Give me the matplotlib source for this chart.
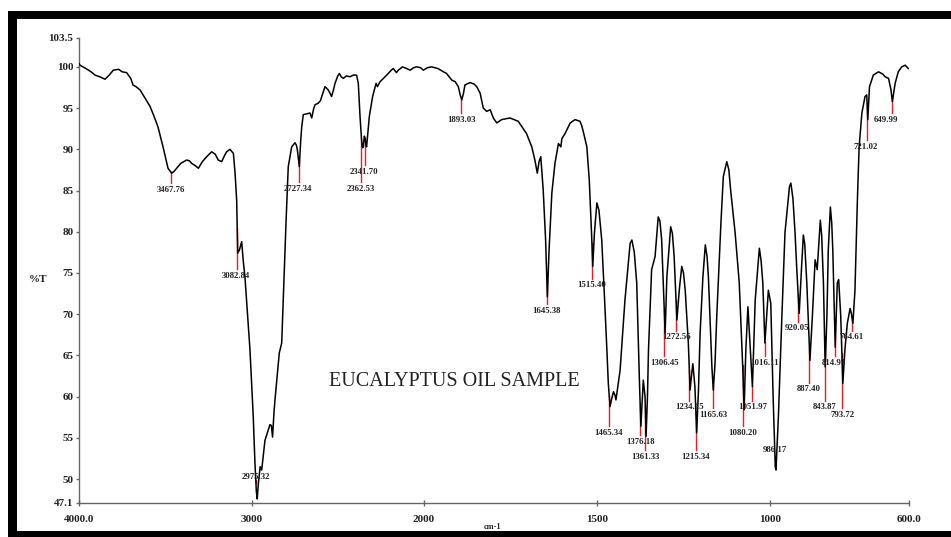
import matplotlib
matplotlib.use('Agg')
import matplotlib.pyplot as plt
import numpy as np
from matplotlib.patches import Rectangle

# ---------------- data ----------------
wavenumber = [4000, 3994, 3960, 3930, 3907, 3880, 3849, 3825, 3801, 3770, 3750, 3724, 3700, 3687, 3670,
              3646, 3620, 3588, 3565, 3542, 3513, 3484, 3463, 3450, 3434, 3410, 3376, 3360, 3347, 3325,
              3308, 3285, 3260, 3231, 3210, 3193, 3173, 3155, 3144, 3125, 3105, 3095, 3086, 3080, 3070,
              3057, 3048, 3038, 3009, 2990, 2980, 2972, 2967, 2960, 2950, 2941, 2922, 2893, 2885, 2878,
              2870, 2864, 2839, 2825, 2816, 2800, 2787, 2767, 2748, 2740, 2734, 2723, 2715, 2709, 2700,
              2680, 2661, 2651, 2640, 2632, 2613, 2600, 2593, 2574, 2555, 2545, 2536, 2525, 2516, 2500,
              2491, 2480, 2468, 2450, 2429, 2410, 2391, 2381, 2371, 2362, 2356, 2352, 2346, 2342, 2337,
              2333, 2317, 2298, 2278, 2270, 2255, 2240, 2226, 2207, 2190, 2178, 2160, 2149, 2125, 2101,
              2080, 2060, 2043, 2020, 2004, 1990, 1978, 1960, 1944, 1935, 1920, 1910, 1901, 1895, 1891,
              1886, 1882, 1867, 1855, 1848, 1838, 1829, 1819, 1809, 1800, 1790, 1776, 1752, 1728, 1704,
              1689, 1680, 1673, 1668, 1663, 1656, 1649, 1644, 1639, 1631, 1622, 1612, 1605, 1602, 1593,
              1578, 1564, 1550, 1545, 1540, 1530, 1523, 1516, 1513, 1508, 1501, 1495, 1487, 1480, 1473,
              1468, 1463, 1458, 1453, 1449, 1446, 1434, 1420, 1405, 1400, 1393, 1386, 1378, 1374, 1370,
              1367, 1362, 1359, 1355, 1352, 1343, 1333, 1324, 1319, 1314, 1304, 1299, 1288, 1283, 1278,
              1270, 1263, 1256, 1251, 1246, 1237, 1232, 1228, 1224, 1218, 1213, 1208, 1203, 1195, 1188,
              1183, 1179, 1169, 1165, 1160, 1155, 1143, 1136, 1126, 1120, 1115, 1102, 1090, 1080, 1076,
              1071, 1065, 1059, 1052, 1044, 1032, 1027, 1022, 1016, 1006, 1002, 999, 992, 986, 984,
              977, 967, 958, 945, 941, 935, 929, 924, 917, 910, 905, 901, 895, 886, 879,
              871, 865, 856, 852, 847, 842, 837, 833, 827, 823, 820, 813, 807, 803, 797,
              791, 785, 778, 770, 766, 762, 756, 749, 744, 736, 727, 722, 719, 714, 703,
              688, 675, 669, 659, 652, 648, 640, 631, 621, 611, 602]
transmittance = [100.4, 100.2, 99.8, 99.4, 99.0, 98.8, 98.5, 99.0, 99.6, 99.7, 99.4, 99.3, 98.6, 97.8, 97.6,
                 97.2, 96.3, 95.2, 94.0, 92.7, 90.3, 87.7, 87.1, 87.3, 87.7, 88.3, 88.7, 88.6, 88.3, 88.0,
                 87.7, 88.5, 89.1, 89.7, 89.4, 88.7, 88.5, 89.3, 89.7, 90.0, 89.5, 87.0, 83.8, 77.4, 77.8,
                 78.8, 76.5, 74.5, 65.7, 57.6, 51.9, 48.5, 47.6, 49.5, 51.5, 51.1, 54.7, 56.6, 56.5, 55.1,
                 58.0, 59.6, 65.3, 66.5, 71.7, 81.1, 87.9, 90.3, 90.8, 90.5, 89.9, 87.9, 91.0, 92.7, 94.2,
                 94.3, 94.4, 93.8, 94.9, 95.4, 95.6, 95.9, 96.4, 97.6, 97.2, 96.8, 96.4, 97.2, 98.0, 98.9,
                 99.2, 98.8, 98.6, 98.9, 98.8, 99.0, 99.0, 98.0, 94.0, 91.1, 90.2, 90.3, 91.6, 91.4, 90.6,
                 90.3, 94.0, 96.4, 98.0, 97.6, 98.2, 98.5, 98.8, 99.2, 99.6, 99.8, 99.3, 99.6, 100.0, 99.8,
                 99.6, 99.9, 100.0, 99.9, 99.6, 99.9, 100.0, 99.8, 99.4, 99.2, 98.4, 98.2, 97.6, 96.5, 96.0,
                 96.8, 97.8, 98.1, 97.9, 97.6, 96.8, 95.0, 94.6, 94.8, 93.8, 93.2, 93.6, 93.8, 93.4, 91.9,
                 90.3, 88.7, 87.1, 88.5, 89.1, 85.1, 79.0, 72.1, 77.8, 84.7, 88.3, 90.7, 90.3, 91.3, 91.9,
                 93.2, 93.6, 93.4, 92.9, 92.1, 90.3, 86.3, 79.4, 75.8, 79.9, 83.5, 82.6, 79.0, 72.9, 66.5,
                 61.6, 58.8, 59.8, 60.6, 60.2, 59.6, 63.2, 71.7, 78.6, 79.0, 77.5, 73.8, 61.6, 56.4, 59.5,
                 62.0, 60.0, 55.2, 60.0, 65.7, 75.4, 77.0, 81.8, 81.3, 79.0, 67.7, 74.5, 80.6, 79.8, 77.0,
                 69.3, 73.0, 75.8, 75.0, 72.9, 66.5, 60.8, 62.5, 64.0, 61.2, 55.6, 60.5, 67.7, 74.5, 78.4,
                 77.0, 74.5, 63.6, 60.8, 64.0, 69.7, 81.0, 86.7, 88.5, 87.5, 85.1, 79.9, 73.8, 63.6, 58.4,
                 65.7, 70.9, 66.5, 61.2, 71.7, 78.0, 76.5, 73.8, 66.5, 72.9, 72.0, 71.3, 59.6, 51.5, 51.1,
                 57.6, 69.7, 79.9, 85.5, 85.9, 84.0, 79.9, 75.5, 70.1, 75.8, 79.6, 78.5, 73.8, 64.4, 69.7,
                 76.6, 75.4, 81.4, 79.5, 73.8, 63.6, 69.7, 77.8, 83.0, 81.0, 77.8, 66.0, 73.8, 74.2, 69.7,
                 61.6, 65.7, 68.9, 70.7, 70.0, 68.9, 72.9, 83.8, 90.3, 94.4, 96.4, 96.6, 93.6, 97.6, 99.0,
                 99.4, 99.1, 98.8, 98.6, 97.2, 95.8, 98.0, 99.4, 100.0, 100.2, 99.8]

peak_wn = [3467.76, 3082.84, 2975.32, 2727.34, 2341.70, 2362.53, 1893.03, 1645.38, 1515.40, 1465.34,
           1376.18, 1361.33, 1306.45, 1272.56, 1234.15, 1215.34, 1165.63, 1080.20, 1051.97, 1016.11,
           986.17, 920.05, 887.40, 843.87, 814.93, 793.72, 764.61, 721.02, 649.99]
peak_labels = ['3467.76', '3082.84', '2975.32', '2727.34', '2341.70', '2362.53', '1893.03', '1645.38',
               '1515.40', '1465.34', '1376.18', '1361.33', '1306.45', '1272.56', '1234.15', '1215.34',
               '1165.63', '1080.20', '1051.97', '1016.11', '986.17', '920.05', '887.40', '843.87',
               '814.93', '793.72', '764.61', '721.02', '649.99']
peak_label_x = [3467, 3093, 2974, 2734, 2348, 2368, 1891, 1648, 1516, 1467,
                1376, 1361, 1306, 1272, 1234, 1215, 1165, 1080, 1052, 1016,
                986, 923, 889, 845, 816, 793, 767, 724, 666]
peak_label_y = [85.06, 74.63, 50.3, 85.2, 87.25, 85.2, 93.55, 70.4, 73.5, 55.6,
                54.5, 52.7, 64.1, 67.2, 58.7, 52.7, 57.8, 55.6, 58.7, 64.1,
                53.5, 68.3, 60.9, 58.7, 64.1, 57.8, 67.2, 90.3, 93.55]

x_ticks = [4000, 3000, 2000, 1500, 1000, 600]
x_ticklabels = ['4000.0', '3000', '2000', '1500', '1000', '600.0']
y_ticks = [47.1, 50, 55, 60, 65, 70, 75, 80, 85, 90, 95, 100, 103.5]
y_ticklabels = ['47.1', '50', '55', '60', '65', '70', '75', '80', '85', '90', '95', '100', '103.5']

# ---------------- figure ----------------
W, H = 951, 537
fig = plt.figure(figsize=(W / 100, H / 100), dpi=100)
fig.patch.set_facecolor('white')

# black frame bands (top, left, bottom)
fig.patches.append(Rectangle((8 / W, 1 - 19 / H), 1 - 8 / W, 8 / H, transform=fig.transFigure,
                             facecolor='black', edgecolor='none', zorder=0))
fig.patches.append(Rectangle((8 / W, 0), 9 / W, 1 - 11 / H, transform=fig.transFigure,
                             facecolor='black', edgecolor='none', zorder=0))
fig.patches.append(Rectangle((8 / W, 0), 1 - 8 / W, 6 / H, transform=fig.transFigure,
                             facecolor='black', edgecolor='none', zorder=0))

ax = fig.add_axes([79 / W, 34 / H, 830 / W, 465 / H])
ax.set_facecolor('none')


def fwd(x):
    x = np.asarray(x, dtype=float)
    return np.where(x <= 2000, x, 2000 + (x - 2000) * 0.498)


def inv(u):
    u = np.asarray(u, dtype=float)
    return np.where(u <= 2000, u, 2000 + (u - 2000) / 0.498)


ax.set_xscale('function', functions=(fwd, inv))
ax.set_xlim(4000, 600)
ax.set_ylim(47.1, 103.5)

wn = np.array(wavenumber, dtype=float)
tr = np.array(transmittance, dtype=float)
ax.plot(wn, tr, color='black', lw=1.1, zorder=3)

serif = 'Liberation Serif'
red = '#e0202a'
for pw, lab, lx, ly in zip(peak_wn, peak_labels, peak_label_x, peak_label_y):
    yc = np.interp(pw, wn[::-1], tr[::-1])
    end = ly + 0.8 * np.sign(yc - ly)
    ax.plot([pw, pw], [yc, end], color=red, lw=1.0, zorder=2)
    ax.text(lx, ly, lab, ha='center', va='center', fontsize=6.3, fontweight='bold',
            family=serif, color='#222222', zorder=4)

ax.text(0.452, 0.262, 'EUCALYPTUS OIL SAMPLE', transform=ax.transAxes, ha='center', va='center',
        fontsize=14.5, family=serif, color='#222222')

for s in ('top', 'right'):
    ax.spines[s].set_visible(False)
for s in ('left', 'bottom'):
    ax.spines[s].set_color('#666666')
    ax.spines[s].set_linewidth(1.0)

ax.set_xticks(x_ticks)
ax.set_xticklabels(x_ticklabels)
ax.set_yticks(y_ticks)
ax.set_yticklabels(y_ticklabels)
ax.minorticks_off()
ax.tick_params(axis='y', direction='out', length=2, width=1, color='#666666', pad=2,
               labelsize=8, labelcolor='#222222')
ax.tick_params(axis='x', direction='inout', length=5, width=1, color='#666666', pad=6,
               labelsize=8, labelcolor='#222222')
for lbl in ax.get_xticklabels() + ax.get_yticklabels():
    lbl.set_family(serif)
    lbl.set_fontweight('bold')

fig.text(38 / W, 1 - 279 / H, '%T', ha='center', va='center', fontsize=8, fontweight='bold',
         family=serif, color='#222222')
fig.text(493 / W, 1 - 527 / H, 'cm-1', ha='center', va='center', fontsize=6, fontweight='bold',
         family=serif, color='#222222')

fig.savefig('out.png', dpi=100)
